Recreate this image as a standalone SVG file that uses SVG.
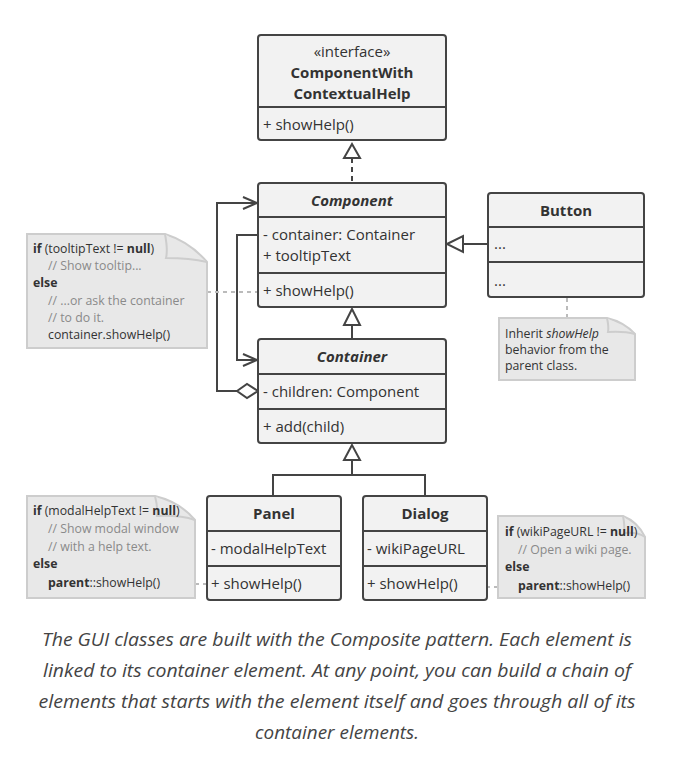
<svg xmlns="http://www.w3.org/2000/svg" width="673" height="769" viewBox="0 0 673 769">
<style>
.box{fill:#f2f2f2;stroke:#444;stroke-width:2}
.div{stroke:#444;stroke-width:2}
.t{font-family:"Open Sans","Liberation Sans",sans-serif;font-size:15px;fill:#333}
.tb{font-family:"Open Sans","Liberation Sans",sans-serif;font-size:15px;font-weight:bold;fill:#333;text-anchor:middle}
.ti{font-style:italic}
.tc{text-anchor:middle}
.line{fill:none;stroke:#444;stroke-width:2}
.tri{fill:#fff;stroke:#444;stroke-width:2}
.note{fill:#e8e8e8;stroke:#cdcdcd;stroke-width:2}
.fold{fill:#e8e8e8;stroke:#cdcdcd;stroke-width:2}
.nt{font-family:"Open Sans","Liberation Sans",sans-serif;font-size:12.3px;fill:#333}
.cm{fill:#8a8a8a}
.dash{fill:none;stroke:#bbb;stroke-width:2;stroke-dasharray:4 4}
.cap{font-family:"Open Sans","Liberation Sans",sans-serif;font-size:18.5px;font-style:italic;fill:#444;text-anchor:middle}
</style>
<defs>
<marker id="open" markerWidth="16" markerHeight="14" refX="15" refY="7" orient="auto" markerUnits="userSpaceOnUse">
<path d="M1,1 L15,7 L1,13" fill="none" stroke="#444" stroke-width="2"/>
</marker>
</defs>
<rect width="673" height="769" fill="#fff"/>

<g id="connectors">
<path class="line" d="M352,158 V183" stroke-dasharray="5 4"/>
<polygon class="tri" points="352,144 344,158 360,158"/>
<path class="line" d="M352,325 V339"/>
<polygon class="tri" points="352,309 344,325 360,325"/>
<path class="line" d="M352,460 V475 M273,475 H425 M273,474 V496 M425,474 V496"/>
<polygon class="tri" points="352,445 344,460 360,460"/>
<path class="line" d="M463,244 H488"/>
<polygon class="tri" points="447,244 463,236 463,252"/>
<path class="line" d="M237,391 H217 V203 H257" marker-end="url(#open)"/>
<polygon class="tri" points="237,391 247,384 258,391 247,398"/>
<path class="line" d="M258,235 H237 V360 H257" marker-end="url(#open)"/>
<path class="dash" d="M207,292 H258"/>
<path class="dash" d="M567,298 V317"/>
<path class="dash" d="M195,584 H207"/>
<circle cx="473" cy="587" r="3.5" fill="none" stroke="#bbb" stroke-width="2"/>
<path class="dash" d="M478,587 H498"/>
</g>

<g id="interface">
<rect class="box" x="258" y="35" width="188" height="105" rx="3"/>
<line class="div" x1="258" y1="107" x2="446" y2="107"/>
<text class="t tc" x="352" y="57">«interface»</text>
<text class="tb" x="352" y="78">ComponentWith</text>
<text class="tb" x="352" y="99">ContextualHelp</text>
<text class="t" x="263" y="130">+ showHelp()</text>
</g>

<g id="component">
<rect class="box" x="258" y="183" width="188" height="124" rx="3"/>
<line class="div" x1="258" y1="217" x2="446" y2="217"/>
<line class="div" x1="258" y1="273" x2="446" y2="273"/>
<text class="tb ti" x="352" y="206">Component</text>
<text class="t" x="263" y="240">- container: Container</text>
<text class="t" x="263" y="261">+ tooltipText</text>
<text class="t" x="263" y="296">+ showHelp()</text>
</g>

<g id="container">
<rect class="box" x="258" y="339" width="188" height="104" rx="3"/>
<line class="div" x1="258" y1="374" x2="446" y2="374"/>
<line class="div" x1="258" y1="409" x2="446" y2="409"/>
<text class="tb ti" x="352" y="362">Container</text>
<text class="t" x="263" y="397">- children: Component</text>
<text class="t" x="263" y="432">+ add(child)</text>
</g>

<g id="button">
<rect class="box" x="488" y="193" width="156" height="104" rx="3"/>
<line class="div" x1="488" y1="227" x2="644" y2="227"/>
<line class="div" x1="488" y1="262" x2="644" y2="262"/>
<text class="tb" x="566" y="216">Button</text>
<text class="t" x="494" y="249">...</text>
<text class="t" x="494" y="286">...</text>
</g>

<g id="panel">
<rect class="box" x="207" y="496" width="134" height="104" rx="3"/>
<line class="div" x1="207" y1="531" x2="341" y2="531"/>
<line class="div" x1="207" y1="566" x2="341" y2="566"/>
<text class="tb" x="274" y="519">Panel</text>
<text class="t" x="211" y="554">- modalHelpText</text>
<text class="t" x="211" y="589">+ showHelp()</text>
</g>

<g id="dialog">
<rect class="box" x="363" y="496" width="124" height="104" rx="3"/>
<line class="div" x1="363" y1="531" x2="487" y2="531"/>
<line class="div" x1="363" y1="566" x2="487" y2="566"/>
<text class="tb" x="425" y="519">Dialog</text>
<text class="t" x="367" y="554">- wikiPageURL</text>
<text class="t" x="367" y="589">+ showHelp()</text>
</g>

<g id="note-component">
<path class="note" d="M27,234 H165 Q190,242 207,262 V348 H27 Z"/>
<path class="fold" d="M165,234 Q168,250 166,258 Q190,258 207,262"/>
<text class="nt" x="33" y="253"><tspan font-weight="bold">if</tspan> (tooltipText != <tspan font-weight="bold">null</tspan>)</text>
<text class="nt cm" x="48" y="270">// Show tooltip...</text>
<text class="nt" x="33" y="287" font-weight="bold">else</text>
<text class="nt cm" x="48" y="305">// ...or ask the container</text>
<text class="nt cm" x="48" y="322">// to do it.</text>
<text class="nt" x="48" y="339">container.showHelp()</text>
</g>

<g id="note-button">
<path class="note" d="M499,318 H607 Q624,322 635,334 V380 H499 Z"/>
<path class="fold" d="M607,318 Q609,327 608,332 Q624,331 635,334"/>
<text class="nt" x="505" y="338" font-size="13.3">Inherit <tspan font-style="italic">showHelp</tspan></text>
<text class="nt" x="505" y="354" font-size="13.3">behavior from the</text>
<text class="nt" x="505" y="370" font-size="13.3">parent class.</text>
</g>

<g id="note-panel">
<path class="note" d="M27,496 H155 Q180,502 195,520 V598 H27 Z"/>
<path class="fold" d="M155,496 Q158,508 157,516 Q180,515 195,520"/>
<text class="nt" x="33" y="515"><tspan font-weight="bold">if</tspan> (modalHelpText != <tspan font-weight="bold">null</tspan>)</text>
<text class="nt cm" x="48" y="533">// Show modal window</text>
<text class="nt cm" x="48" y="551">// with a help text.</text>
<text class="nt" x="33" y="568" font-weight="bold">else</text>
<text class="nt" x="48" y="587"><tspan font-weight="bold">parent</tspan>::showHelp()</text>
</g>

<g id="note-dialog">
<path class="note" d="M498,516 H623 Q638,522 645,537 V598 H498 Z"/>
<path class="fold" d="M623,516 Q625,526 624,533 Q638,532 645,537"/>
<text class="nt" x="505" y="536"><tspan font-weight="bold">if</tspan> (wikiPageURL != <tspan font-weight="bold">null</tspan>)</text>
<text class="nt cm" x="518" y="554">// Open a wiki page.</text>
<text class="nt" x="505" y="571" font-weight="bold">else</text>
<text class="nt" x="518" y="590"><tspan font-weight="bold">parent</tspan>::showHelp()</text>
</g>

<g id="caption">
<text class="cap" x="337" y="646" textLength="590" lengthAdjust="spacingAndGlyphs">The GUI classes are built with the Composite pattern. Each element is</text>
<text class="cap" x="337" y="677" textLength="588" lengthAdjust="spacingAndGlyphs">linked to its container element. At any point, you can build a chain of</text>
<text class="cap" x="337" y="708" textLength="597" lengthAdjust="spacingAndGlyphs">elements that starts with the element itself and goes through all of its</text>
<text class="cap" x="337" y="739" textLength="164" lengthAdjust="spacingAndGlyphs">container elements.</text>
</g>
</svg>
